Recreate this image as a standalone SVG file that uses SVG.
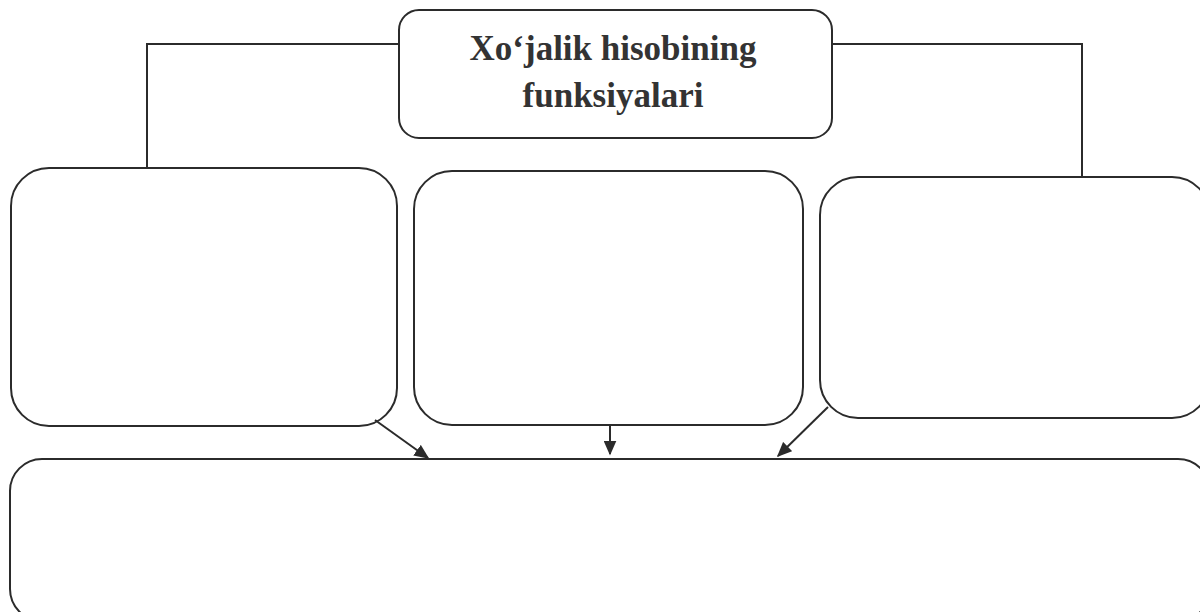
<svg xmlns="http://www.w3.org/2000/svg" width="1200" height="612" viewBox="0 0 1200 612">
<style>
.box{fill:none;stroke:#2b2b2b;stroke-width:2}
.conn{fill:none;stroke:#2b2b2b;stroke-width:2}
.t{font-family:"Liberation Serif","Times New Roman",serif;font-weight:bold;font-size:35px;fill:#333;text-anchor:middle}
</style>
<defs>
<marker id="ah" viewBox="0 0 10 10" refX="9" refY="5" markerWidth="15" markerHeight="13" markerUnits="userSpaceOnUse" orient="auto" preserveAspectRatio="none">
<path d="M0,0 L10,5 L0,10 z" fill="#2b2b2b"/>
</marker>
</defs>
<rect width="1200" height="612" fill="#fff"/>
<g id="connectors">
<polyline class="conn" points="399,44 147,44 147,168"/>
<polyline class="conn" points="832,44 1082,44 1082,177"/>
<line class="conn" x1="375" y1="420" x2="428" y2="458" marker-end="url(#ah)"/>
<line class="conn" x1="610" y1="425" x2="610" y2="454" marker-end="url(#ah)"/>
<line class="conn" x1="828" y1="407" x2="778" y2="456" marker-end="url(#ah)"/>
</g>
<g id="title">
<rect class="box" x="399" y="10" width="433" height="128" rx="20"/>
<text class="t" x="613" y="60">Xo‘jalik hisobining</text>
<text class="t" x="613" y="107">funksiyalari</text>
</g>
<g id="box-left"><rect class="box" x="11" y="168" width="386" height="258" rx="38"/></g>
<g id="box-middle"><rect class="box" x="414" y="171" width="389" height="254" rx="38"/></g>
<g id="box-right"><rect class="box" x="820" y="177" width="390" height="241" rx="38"/></g>
<g id="box-bottom"><rect class="box" x="10" y="459" width="1200" height="162" rx="32"/></g>
</svg>
